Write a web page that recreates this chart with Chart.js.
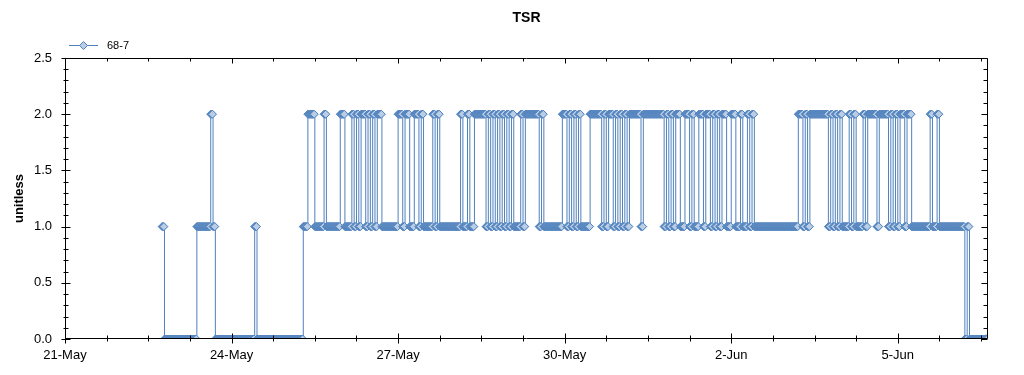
<!DOCTYPE html>
<html>
<head>
<meta charset="utf-8">
<title>TSR</title>
<script src="https://cdn.jsdelivr.net/npm/chart.js@4.4.0/dist/chart.umd.min.js"></script>
<style>
    html, body { margin: 0; padding: 0; background: #ffffff; }
    #wrap { width: 1024px; height: 375px; }
</style>
</head>
<body>
<div id="wrap"><canvas id="tsrChart" width="1024" height="375"></canvas></div>
<script>
// ==========================================
// DATA
// ==========================================

const seriesName = '68-7';
const chartTitle = 'TSR';
const yAxisTitle = 'unitless';

// x axis runs in days from 21-May 00:00
const xTickLabels = ['21-May', '24-May', '27-May', '30-May', '2-Jun', '5-Jun'];
const yTickLabels = ['0.0', '0.5', '1.0', '1.5', '2.0', '2.5'];

// logger samples, stored as runs: hour the run starts (from 21-May 00:00) and its level
const runStartHour = [
    42, 43, 57, 63, 64, 65, 82, 83,
    103, 105, 108, 112, 113, 119, 121, 124, 125, 126, 127, 128, 130, 131, 132, 133, 134, 135, 137,
    144, 146, 147, 149, 151, 153, 154, 155, 159, 160, 161, 162,
    171, 172, 174, 175, 177, 182, 183, 184, 185, 186, 187, 188, 189, 190, 191, 192, 193, 194,
    197, 198, 199, 205, 206, 207,
    215, 217, 218, 219, 220, 221, 222, 223, 227, 232, 233, 234, 235, 237, 238, 239, 240, 241, 242, 243, 244,
    249, 250, 259, 260, 261, 262, 263, 264, 266, 268, 270, 271, 272, 274, 276, 277, 279, 280, 281, 282, 283,
    284, 286, 288, 290, 292, 293, 295, 296, 297, 298,
    317, 319, 320, 321, 322, 330, 331, 332, 333, 334, 335, 336, 339, 340, 341, 342,
    345, 346, 347, 351, 352, 356, 357, 358, 359, 360, 361, 363, 364, 366,
    374, 375, 377, 378, 389, 390, 391
];
const runLevel = [
    1, 0, 1, 2, 1, 0, 1, 0,
    1, 2, 1, 2, 1, 2, 1, 2, 1, 2, 1, 2, 1, 2, 1, 2, 1, 2, 1,
    2, 1, 2, 1, 2, 1, 2, 1, 2, 1, 2, 1,
    2, 1, 2, 1, 2, 1, 2, 1, 2, 1, 2, 1, 2, 1, 2, 1, 2, 1,
    2, 1, 2, 1, 2, 1,
    2, 1, 2, 1, 2, 1, 2, 1, 2, 1, 2, 1, 2, 1, 2, 1, 2, 1, 2, 1, 2,
    1, 2, 1, 2, 1, 2, 1, 2, 1, 2, 1, 2, 1, 2, 1, 2, 1, 2, 1, 2, 1,
    2, 1, 2, 1, 2, 1, 2, 1, 2, 1,
    2, 1, 2, 1, 2, 1, 2, 1, 2, 1, 2, 1, 2, 1, 2, 1,
    2, 1, 2, 1, 2, 1, 2, 1, 2, 1, 2, 1, 2, 1,
    2, 1, 2, 1, 0, 1, 0
];
const lastSampleHour = 398.75;
const sampleStepHours = 0.25;

// ==========================================
// HELPERS
// ==========================================

const lineBlue = '#4f81bd';
const markerFill = '#b9cde5';
const fontFamily = "'Liberation Sans', Arial, sans-serif";

function buildSamples() {
    const pts = [];
    for (let r = 0; r < runStartHour.length; r++) {
        const end = r + 1 < runStartHour.length ? runStartHour[r + 1] : lastSampleHour + sampleStepHours;
        for (let h = runStartHour[r]; h < end - 1e-9; h += sampleStepHours) {
            pts.push({ x: h / 24, y: runLevel[r] });
        }
    }
    return pts;
}

// frame, tick marks on all four sides, title and legend
const framePlugin = {
    id: 'framePlugin',
    afterDraw(chart) {
        const { ctx, chartArea: a, scales: { x, y } } = chart;
        const L = Math.round(a.left) + 0.5, R = Math.round(a.right) - 0.5;
        const T = Math.round(a.top) + 0.5, B = Math.round(a.bottom) - 0.5;
        ctx.save();
        ctx.strokeStyle = '#000';
        ctx.lineWidth = 1;
        ctx.beginPath();
        ctx.rect(L, T, R - L, B - T);

        // x ticks every 18 hours, labelled every 3 days
        for (let i = 0; i * 0.75 <= x.max + 1e-9; i++) {
            const px = Math.round(x.getPixelForValue(i * 0.75)) + 0.5;
            const major = i % 4 === 0;
            ctx.moveTo(px, B - (major ? 5 : 3));
            ctx.lineTo(px, B + (major ? 5 : 3));
            ctx.moveTo(px, T);
            ctx.lineTo(px, T + (major ? 5 : 3));
        }
        // y ticks every 0.1
        for (let i = 0; i <= 25; i++) {
            const py = Math.round(y.getPixelForValue(i / 10)) + 0.5;
            const major = i % 5 === 0;
            ctx.moveTo(L - (major ? 4 : 2), py);
            ctx.lineTo(L + (major ? 5 : 3), py);
            ctx.moveTo(R, py);
            ctx.lineTo(R - (major ? 6 : 4), py);
        }
        ctx.stroke();

        // title
        ctx.fillStyle = '#000';
        ctx.font = 'bold 14px ' + fontFamily;
        ctx.textAlign = 'center';
        ctx.textBaseline = 'middle';
        ctx.fillText(chartTitle, (a.left + a.right) / 2, 18);

        // legend: line + diamond + name
        const ly = 45.5;
        ctx.strokeStyle = lineBlue;
        ctx.beginPath();
        ctx.moveTo(69, ly);
        ctx.lineTo(98, ly);
        ctx.stroke();
        ctx.beginPath();
        ctx.moveTo(83.5, ly - 4);
        ctx.lineTo(87.5, ly);
        ctx.lineTo(83.5, ly + 4);
        ctx.lineTo(79.5, ly);
        ctx.closePath();
        ctx.fillStyle = markerFill;
        ctx.fill();
        ctx.stroke();
        ctx.fillStyle = '#000';
        ctx.font = '11px ' + fontFamily;
        ctx.textAlign = 'left';
        ctx.fillText(seriesName, 107, 46);
        ctx.restore();
    }
};

// ==========================================
// CHART
// ==========================================

function createTsrChart() {
    const ctx = document.getElementById('tsrChart').getContext('2d');

    new Chart(ctx, {
        type: 'line',
        data: {
            datasets: [{
                label: seriesName,
                data: buildSamples(),
                stepped: true,
                borderColor: lineBlue,
                borderWidth: 1,
                pointStyle: 'rectRot',
                pointRadius: 4,
                pointBorderWidth: 1,
                pointBorderColor: lineBlue,
                pointBackgroundColor: markerFill,
                tension: 0
            }]
        },
        options: {
            responsive: false,
            animation: false,
            layout: {
                padding: { top: 58, right: 36, left: 0, bottom: 0 }
            },
            plugins: {
                legend: { display: false },
                title: { display: false },
                tooltip: { enabled: false }
            },
            scales: {
                x: {
                    type: 'linear',
                    min: 0,
                    max: 16.625,
                    grid: { display: false, drawTicks: false },
                    border: { display: false },
                    afterFit: function(scale) { scale.height = 36; },
                    ticks: {
                        stepSize: 3,
                        includeBounds: false,
                        autoSkip: false,
                        maxRotation: 0,
                        padding: 9,
                        color: '#000',
                        font: { size: 13, family: fontFamily },
                        callback: function(value) {
                            return value % 3 === 0 ? xTickLabels[value / 3] : '';
                        }
                    }
                },
                y: {
                    min: 0,
                    max: 2.5,
                    grid: { display: false, drawTicks: false },
                    border: { display: false },
                    afterFit: function(scale) { scale.width = 65; },
                    title: {
                        display: true,
                        text: yAxisTitle,
                        color: '#000',
                        padding: { top: 12, bottom: 0 },
                        font: { size: 13, weight: 'bold', family: fontFamily }
                    },
                    ticks: {
                        stepSize: 0.5,
                        padding: 13,
                        color: '#000',
                        font: { size: 13, family: fontFamily },
                        callback: function(value) {
                            return yTickLabels[Math.round(value * 2)];
                        }
                    }
                }
            }
        },
        plugins: [framePlugin]
    });
}

document.addEventListener('DOMContentLoaded', function() {
    createTsrChart();
});
</script>
</body>
</html>
